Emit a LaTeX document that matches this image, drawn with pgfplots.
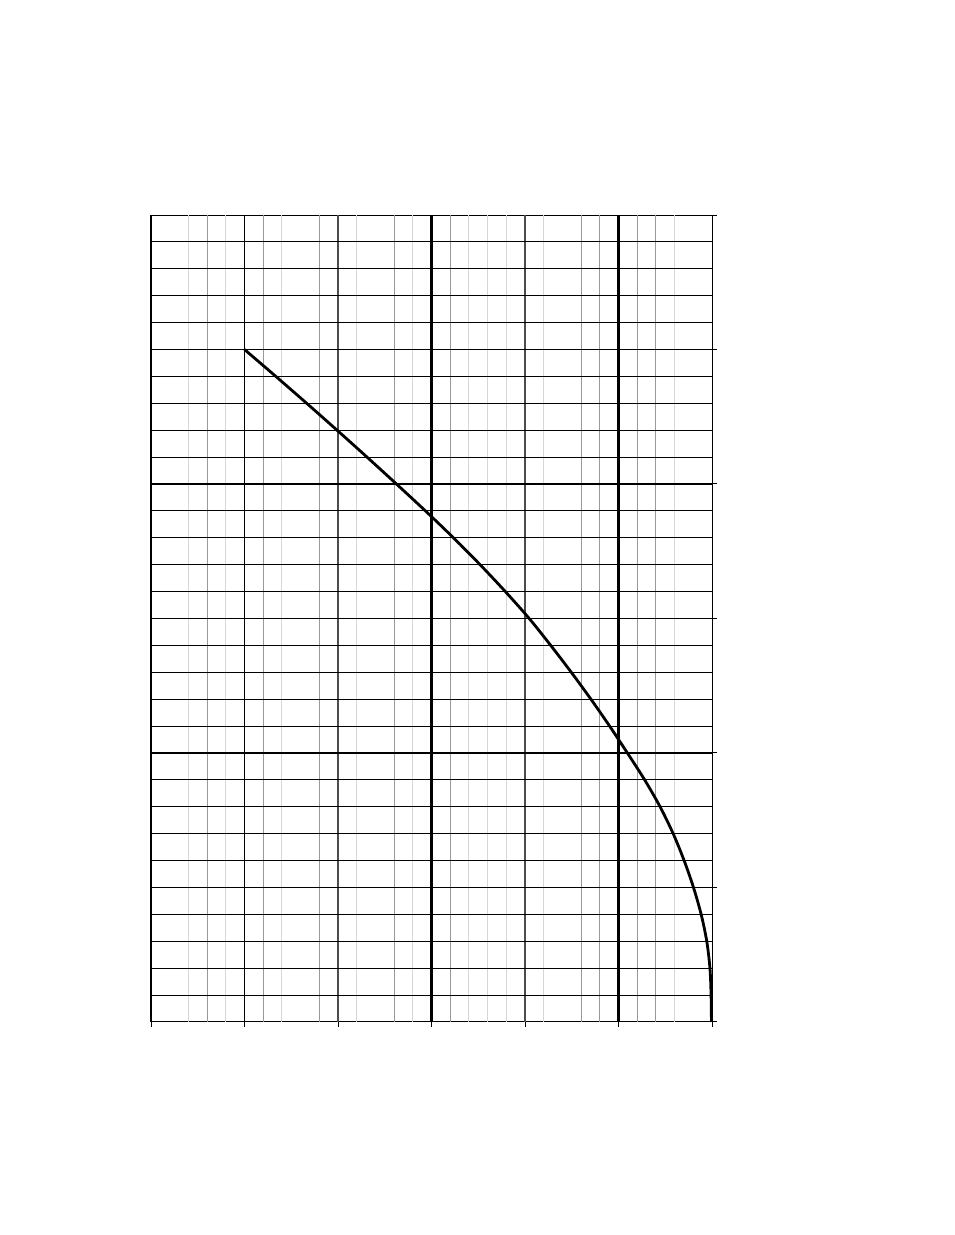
\documentclass[border=0pt]{standalone}
\usepackage{pgfplots}
\pgfplotsset{compat=1.18}
\begin{document}
\begin{tikzpicture}
\path[use as bounding box] (0,0) rectangle (477pt,617.5pt);
\begin{axis}[
  at={(75.5pt,106.5pt)}, anchor=south west,
  scale only axis, width=280.5pt, height=403.5pt,
  xmin=0, xmax=6, ymin=0, ymax=6,
  xtick={0,1,2,3,4,5,6}, ytick={0,1,2,3,4,5,6},
  xticklabels={}, yticklabels={},
  xtick pos=left, ytick pos=right,
  tick align=outside, major tick length=2.5pt,
  tick style={black, line width=0.5pt},
  axis line style={black, line width=0.5pt},
  clip=false,
]
% light minor vertical lines
\addplot[ycomb, mark=none, draw=black!16, line width=0.5pt] coordinates {
(0.4,6) (0.8,6) (1.4,6) (2.2,6) (2.8,6) (3.4,6) (3.6,6) (3.8,6) (4.2,6) (5.6,6)};
% gray minor vertical lines
\addplot[ycomb, mark=none, draw=black!40, line width=0.5pt] coordinates {
(0.6,6) (1.2,6) (1.8,6) (2.6,6) (3.2,6) (4.6,6) (4.8,6) (5.2,6) (5.4,6)};
% dark gray majors
\addplot[ycomb, mark=none, draw=black!70, line width=0.7pt] coordinates {(2,6) (4,6)};
% horizontal thin lines
\addplot[xcomb, mark=none, draw=black, line width=0.55pt] coordinates {
(6,0.2) (6,0.4) (6,0.6) (6,0.8) (6,1.0) (6,1.2) (6,1.4) (6,1.6) (6,1.8) (6,2.0)
(6,2.2) (6,2.4) (6,2.6) (6,2.8) (6,3.0) (6,3.2) (6,3.4) (6,3.6) (6,3.8) (6,4.0)
(6,4.2) (6,4.4) (6,4.6) (6,4.8) (6,5.0) (6,5.2) (6,5.4) (6,5.6) (6,5.8)};
% heavy horizontal lines
\addplot[xcomb, mark=none, draw=black, line width=1.1pt] coordinates {(6,2) (6,4)};
% black majors
\addplot[ycomb, mark=none, draw=black, line width=0.6pt] coordinates {(1,6)};
\addplot[ycomb, mark=none, draw=black, line width=1.1pt] coordinates {(3,6) (5,6)};
% left border heavy
\addplot[mark=none, draw=black, line width=1.1pt] coordinates {(0,0) (0,6)};
% curve
\addplot[smooth, tension=0.5, mark=none, draw=black, line width=1.4pt] coordinates {
(1.000,5.0) (1.335,4.8) (1.665,4.6) (1.990,4.4) (2.310,4.2) (2.625,4.0)
(2.935,3.8) (3.235,3.6) (3.520,3.4) (3.790,3.2) (4.045,3.0) (4.275,2.8)
(4.495,2.6) (4.705,2.4) (4.905,2.2) (5.095,2.0) (5.280,1.8) (5.445,1.6)
(5.585,1.4) (5.702,1.2) (5.802,1.0) (5.884,0.8) (5.944,0.6) (5.978,0.4)
(5.990,0.2) (5.994,0.0)};
\end{axis}
\end{tikzpicture}
\end{document}
